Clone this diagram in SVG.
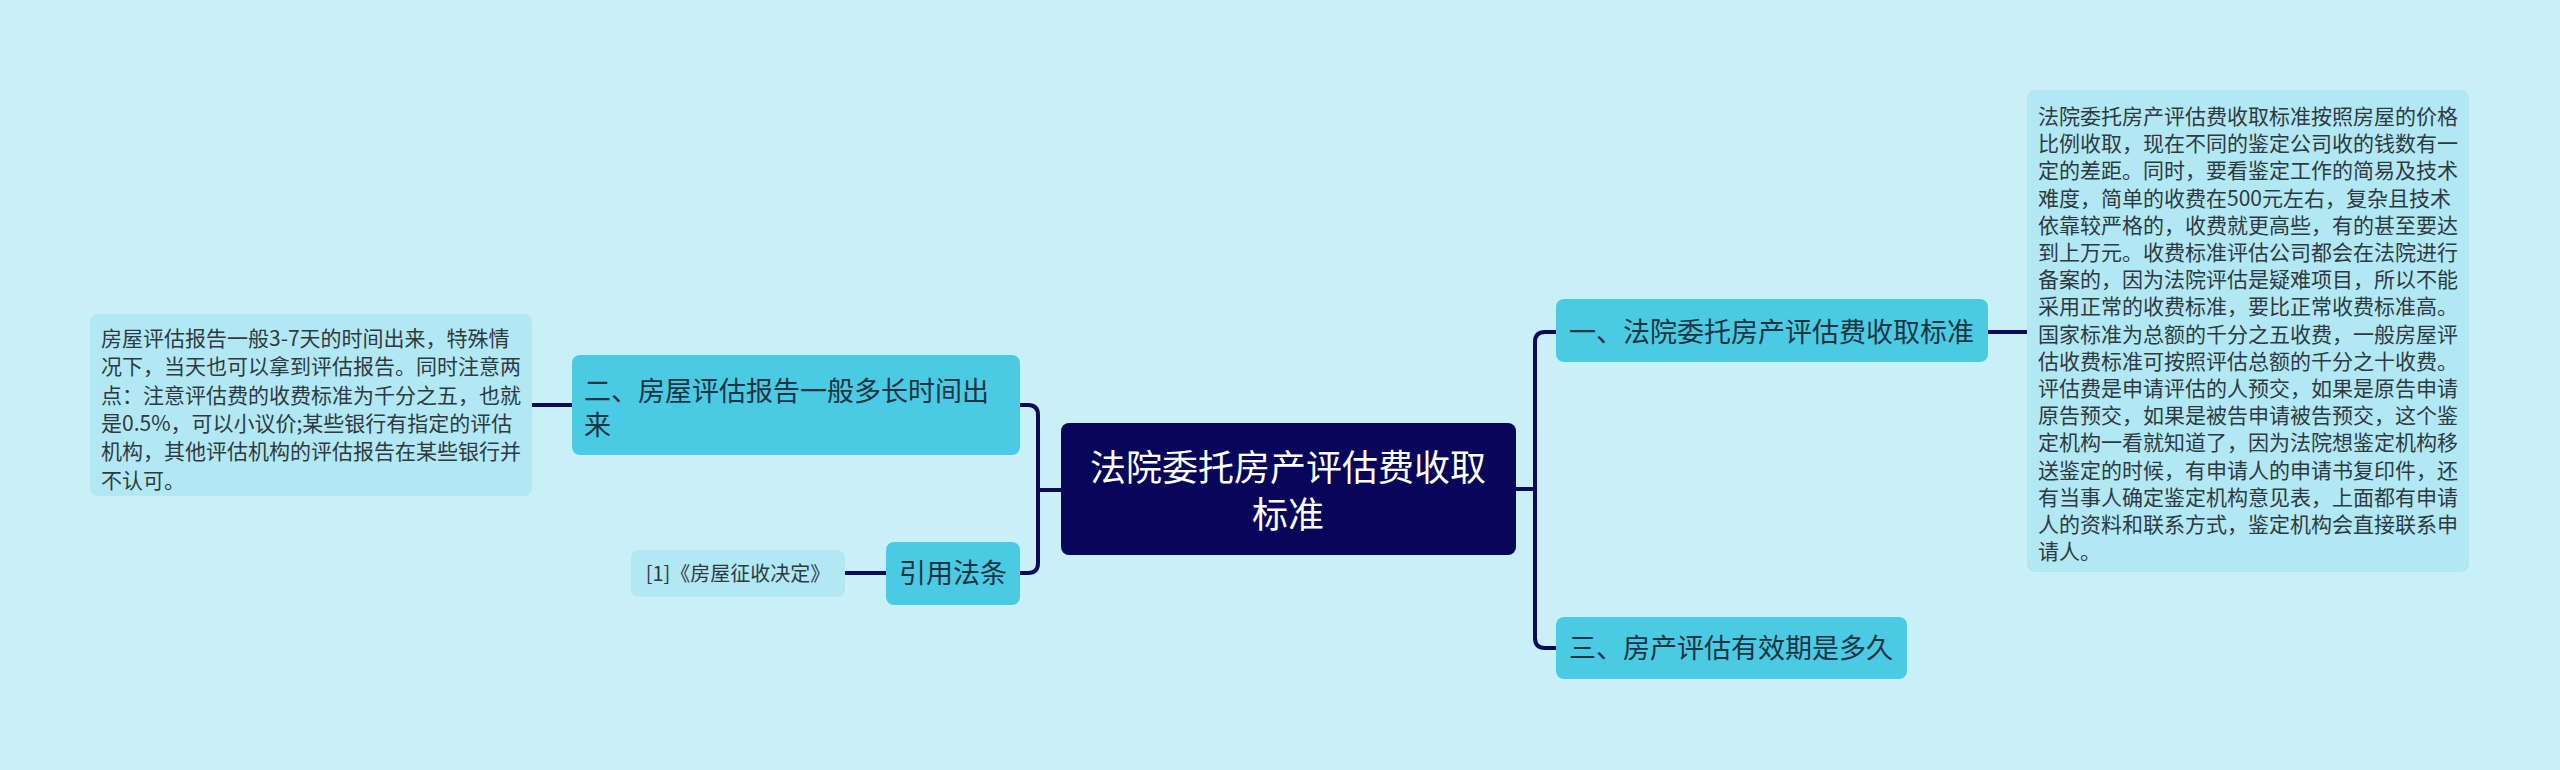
<svg xmlns="http://www.w3.org/2000/svg" width="2560" height="770" viewBox="0 0 2560 770">
<style>
.t{font-family:"Noto Sans CJK SC","Noto Sans",sans-serif}
.branch{fill:#4bcae3}
.leaf{fill:#b2e8f4}
.bt{font-size:27px;fill:#1d3442}
.lt{font-size:21px;fill:#2f3a40}
.conn{fill:none;stroke:#0b0a57;stroke-width:4;stroke-linecap:round}
</style>
<rect width="2560" height="770" fill="#c9f0f7"/>
<g id="connectors">
<path class="conn" d="M1516,489 H1535 M1556,332 H1545 Q1535,332 1535,342 V638 Q1535,648 1545,648 H1556"/>
<path class="conn" d="M1988,332 H2027"/>
<path class="conn" d="M1061,490 H1038 M1020,405 H1028 Q1038,405 1038,415 V563 Q1038,573 1028,573 H1020"/>
<path class="conn" d="M572,405 H532"/>
<path class="conn" d="M886,573 H845"/>
</g>
<g id="center">
<rect x="1061" y="423" width="455" height="132" rx="8" fill="#07065a"/>
<text class="t" x="1288" y="481" font-size="36" fill="#ffffff" text-anchor="middle">法院委托房产评估费收取</text>
<text class="t" x="1288" y="528" font-size="36" fill="#ffffff" text-anchor="middle">标准</text>
</g>
<g id="node1">
<rect class="branch" x="1556" y="299" width="432" height="63" rx="8"/>
<text class="t bt" x="1569" y="342">一、法院委托房产评估费收取标准</text>
</g>
<g id="node1-detail">
<rect class="leaf" x="2027" y="90" width="442" height="482" rx="8"/>
<text class="t lt">
<tspan x="2038" y="124">法院委托房产评估费收取标准按照房屋的价格</tspan>
<tspan x="2038" y="151.2">比例收取，现在不同的鉴定公司收的钱数有一</tspan>
<tspan x="2038" y="178.4">定的差距。同时，要看鉴定工作的简易及技术</tspan>
<tspan x="2038" y="205.6">难度，简单的收费在500元左右，复杂且技术</tspan>
<tspan x="2038" y="232.8">依靠较严格的，收费就更高些，有的甚至要达</tspan>
<tspan x="2038" y="260">到上万元。收费标准评估公司都会在法院进行</tspan>
<tspan x="2038" y="287.2">备案的，因为法院评估是疑难项目，所以不能</tspan>
<tspan x="2038" y="314.4">采用正常的收费标准，要比正常收费标准高。</tspan>
<tspan x="2038" y="341.6">国家标准为总额的千分之五收费，一般房屋评</tspan>
<tspan x="2038" y="368.8">估收费标准可按照评估总额的千分之十收费。</tspan>
<tspan x="2038" y="396">评估费是申请评估的人预交，如果是原告申请</tspan>
<tspan x="2038" y="423.2">原告预交，如果是被告申请被告预交，这个鉴</tspan>
<tspan x="2038" y="450.4">定机构一看就知道了，因为法院想鉴定机构移</tspan>
<tspan x="2038" y="477.6">送鉴定的时候，有申请人的申请书复印件，还</tspan>
<tspan x="2038" y="504.8">有当事人确定鉴定机构意见表，上面都有申请</tspan>
<tspan x="2038" y="532">人的资料和联系方式，鉴定机构会直接联系申</tspan>
<tspan x="2038" y="559.2">请人。</tspan>
</text>
</g>
<g id="node3">
<rect class="branch" x="1556" y="617" width="351" height="62" rx="8"/>
<text class="t bt" x="1569" y="658">三、房产评估有效期是多久</text>
</g>
<g id="node2">
<rect class="branch" x="572" y="355" width="448" height="100" rx="8"/>
<text class="t bt" x="584" y="401">二、房屋评估报告一般多长时间出</text>
<text class="t bt" x="584" y="435">来</text>
</g>
<g id="node2-detail">
<rect class="leaf" x="90" y="314" width="442" height="182" rx="8"/>
<text class="t lt">
<tspan x="101" y="346">房屋评估报告一般3-7天的时间出来，特殊情</tspan>
<tspan x="101" y="374.3">况下，当天也可以拿到评估报告。同时注意两</tspan>
<tspan x="101" y="402.6">点：注意评估费的收费标准为千分之五，也就</tspan>
<tspan x="101" y="430.9">是0.5%，可以小议价;某些银行有指定的评估</tspan>
<tspan x="101" y="459.2">机构，其他评估机构的评估报告在某些银行并</tspan>
<tspan x="101" y="487.5">不认可。</tspan>
</text>
</g>
<g id="node-law">
<rect class="branch" x="886" y="542" width="134" height="63" rx="8"/>
<text class="t bt" x="953" y="583" text-anchor="middle">引用法条</text>
</g>
<g id="node-law-detail">
<rect class="leaf" x="631" y="550" width="214" height="47" rx="8"/>
<text class="t" x="738" y="581" font-size="20" fill="#2f3a40" text-anchor="middle">[1]《房屋征收决定》</text>
</g>
</svg>
